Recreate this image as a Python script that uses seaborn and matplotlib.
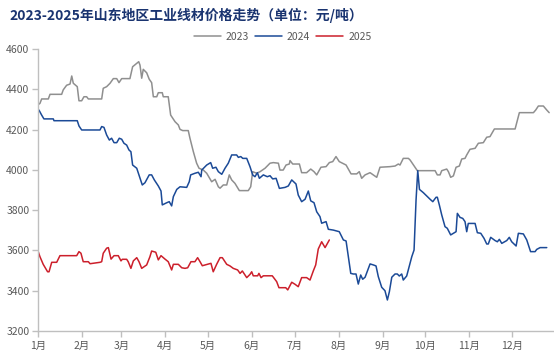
import matplotlib
matplotlib.use("Agg")
import matplotlib.pyplot as plt
import seaborn as sns
import pandas as pd

# ---------------- data (day of year, price in 元/吨) ----------------
days_2023 = [0, 1.6, 2.8, 7.5, 8.7, 16.9, 18, 20.4, 22.8, 24, 25.1, 27.9, 29.1, 31, 32.6, 34.5,
             35.7, 45.1, 46.2, 48.6, 51, 53.3, 55.7, 57.3, 59.2, 65, 66.9, 69.8, 71.2, 72.1, 73.3,
             74.4, 76.8, 78.6, 80.3, 81.5, 83.9, 85, 87.8, 88.5, 92, 93.7, 96.8, 99.1, 100.3,
             102.2, 106.1, 107.3, 109.7, 112, 113.7, 116.7, 119.1, 122.6, 125, 127.3, 128.5,
             130.8, 133.2, 135, 136.7, 139, 142.1, 148.4, 150.1, 151.5, 154.3, 156.7, 160.2,
             163.7, 166, 169.6, 170.7, 173, 175, 177.3, 177.8, 179.7, 184.4, 186, 189.5, 192.4,
             194.7, 196.6, 199.6, 203.2, 205.5, 207.9, 210.2, 212.5, 217.3, 220.8, 224.8, 226.6,
             228.3, 230.7, 234.2, 236.5, 238.9, 241.2, 248.3, 251.8, 254.1, 255.3, 257.6, 261.2,
             262.4, 267.5, 280, 281.6, 283.5, 284.7, 288.2, 289.4, 291, 292.9, 294.8, 297.1,
             298.8, 301.1, 302.3, 304.6, 308.2, 310.5, 314, 316.4, 318.7, 321.8, 336.4, 339.4,
             349.3, 350.9, 352.8, 356.3, 358.7, 360.4]
price_2023 = [4322, 4330, 4352, 4352, 4375, 4375, 4397, 4420, 4426, 4466, 4430, 4413, 4343, 4343,
              4363, 4363, 4352, 4352, 4405, 4413, 4430, 4453, 4453, 4433, 4453, 4453, 4512, 4529,
              4537, 4520, 4455, 4499, 4482, 4450, 4433, 4363, 4363, 4383, 4383, 4363, 4363, 4272,
              4239, 4223, 4201, 4195, 4195, 4157, 4090, 4033, 4008, 3999, 3983, 3941, 3953, 3916,
              3909, 3925, 3925, 3975, 3950, 3933, 3897, 3897, 3916, 3991, 3983, 3991, 4008, 4033,
              4036, 4033, 3999, 3999, 4024, 4029, 4046, 4029, 4029, 3986, 3986, 4004, 3991, 3975,
              4013, 4016, 4036, 4041, 4066, 4041, 4024, 3980, 3980, 3991, 3958, 3975, 3986, 3975,
              3963, 4013, 4016, 4019, 4029, 4024, 4057, 4057, 4049, 3996, 3996, 3975, 3975, 3996,
              4004, 3991, 3963, 3970, 4013, 4019, 4054, 4057, 4074, 4102, 4107, 4132, 4135, 4162,
              4165, 4203, 4203, 4284, 4284, 4297, 4317, 4317, 4297, 4284]

days_2024 = [0.9, 2.8, 4.4, 11, 11.5, 27.9, 29.1, 31, 43.9, 45.1, 46.7, 48.6, 50.5, 52.1, 53.8,
             55.7, 57.5, 59.2, 60.8, 62.7, 64.3, 65.7, 66.9, 69.8, 72.1, 73.7, 75.6, 78.6, 80.3,
             82.2, 85, 86.9, 87.8, 91, 92.7, 94.4, 95.6, 98, 100.3, 105, 106.8, 107.8, 110.8,
             113.2, 115.1, 115.6, 119.1, 121.9, 123.3, 125.6, 127.3, 129.7, 132, 134.3, 136.7,
             140.2, 141.4, 143.1, 144.5, 147.3, 149.6, 151.5, 153.1, 154.8, 156.2, 159, 161.8,
             163.7, 165.6, 168, 170.3, 174.3, 176.6, 179, 182, 183.6, 186, 188.4, 190.7, 192.4,
             194.7, 196.6, 198.9, 200.1, 203.2, 204.8, 208.3, 212.5, 215.4, 217.3, 218.9, 220.6,
             222.4, 224.3, 225.9, 227.6, 229, 230.7, 234.2, 236.5, 238.4, 240, 242.4, 244.7,
             246.4, 247.8, 249.5, 251.8, 253.4, 254.8, 256.5, 257.6, 260, 261.9, 263.6, 265.2,
             266.6, 267.8, 269, 271.7, 276.5, 278.4, 280.7, 281.6, 283, 284.7, 287, 288.6, 291,
             292.9, 294.8, 295.7, 297.6, 299.5, 301.1, 302.3, 303.4, 308.2, 309.8, 312.2, 314.5,
             316.4, 317.5, 319.2, 322.3, 323.9, 325.3, 327, 330.5, 332.3, 334, 337.1, 338.7,
             342.2, 344.6, 347.3, 350.5, 351.6, 354, 358.7]
price_2024 = [4297, 4272, 4253, 4253, 4244, 4244, 4218, 4198, 4198, 4215, 4211, 4173, 4148, 4157,
              4135, 4135, 4157, 4152, 4132, 4123, 4099, 4090, 4024, 4008, 3958, 3925, 3936, 3975,
              3975, 3950, 3920, 3895, 3826, 3837, 3842, 3821, 3867, 3903, 3916, 3913, 3941, 3975,
              3983, 3988, 3966, 3999, 4024, 4036, 4008, 4013, 3991, 3978, 4008, 4033, 4074, 4074,
              4062, 4066, 4057, 4057, 4016, 3975, 3966, 3986, 3958, 3975, 3966, 3971, 3955, 3958,
              3908, 3913, 3920, 3950, 3930, 3875, 3842, 3854, 3895, 3846, 3837, 3792, 3768, 3735,
              3743, 3705, 3701, 3693, 3652, 3647, 3569, 3486, 3483, 3483, 3433, 3478, 3457, 3467,
              3533, 3528, 3523, 3470, 3417, 3400, 3354, 3395, 3467, 3483, 3483, 3473, 3483, 3453,
              3473, 3523, 3569, 3602, 3850, 3996, 3903, 3887, 3854, 3842, 3864, 3864, 3826, 3776,
              3718, 3710, 3677, 3685, 3693, 3784, 3764, 3759, 3743, 3693, 3734, 3734, 3688, 3685,
              3660, 3632, 3632, 3665, 3649, 3643, 3655, 3635, 3649, 3665, 3643, 3622, 3685, 3682,
              3652, 3594, 3594, 3605, 3614, 3614]

days_2025 = [0, 1.6, 3.9, 7, 8, 9.9, 13.4, 15.7, 27.5, 29.1, 30.5, 32.1, 35.7, 36.9, 43.9, 45.1,
             46.2, 48.6, 49.8, 51.7, 53.8, 56.8, 58.7, 59.6, 62.7, 63.8, 65.7, 67.4, 69.8, 71.4,
             73.3, 76.8, 79.1, 80.3, 83.2, 85, 86.9, 89.7, 92, 94.4, 95.6, 99.1, 101.5, 103.8,
             105.7, 108, 110.8, 112.7, 114.4, 116, 122.1, 123.7, 126.1, 128.5, 130.1, 133.2,
             135.5, 137.8, 140.9, 142.6, 144.2, 147.3, 149.6, 150.8, 151.9, 155, 155.9, 157.4,
             159, 165.3, 168.4, 170, 174.8, 176.2, 179, 181.3, 183.6, 186, 189.5, 191.9, 194.2,
             195.9, 197.7, 200.1, 202.5, 205.5]
price_2025 = [3602, 3569, 3531, 3494, 3494, 3541, 3541, 3574, 3574, 3594, 3586, 3544, 3544, 3534,
              3541, 3544, 3586, 3611, 3614, 3557, 3574, 3574, 3548, 3556, 3556, 3544, 3511, 3548,
              3564, 3544, 3511, 3528, 3569, 3597, 3591, 3553, 3574, 3557, 3544, 3503, 3531, 3531,
              3514, 3511, 3514, 3544, 3544, 3564, 3544, 3524, 3536, 3494, 3531, 3564, 3564, 3531,
              3523, 3511, 3503, 3486, 3498, 3465, 3481, 3494, 3474, 3474, 3486, 3465, 3474, 3474,
              3445, 3415, 3415, 3404, 3442, 3432, 3420, 3465, 3465, 3453, 3498, 3528, 3607, 3643,
              3614, 3652]

years = ["2023", "2024", "2025"]
month_labels = ["1月", "2月", "3月", "4月", "5月", "6月", "7月", "8月", "9月", "10月", "11月", "12月"]
month_starts = [0, 31, 59, 90, 120, 151, 181, 212, 243, 273, 304, 334]
y_ticks = [3200, 3400, 3600, 3800, 4000, 4200, 4400, 4600]
title = "2023-2025年山东地区工业线材价格走势（单位：元/吨）"

df = pd.concat([
    pd.DataFrame({"day": days_2023, "price": price_2023, "year": "2023"}),
    pd.DataFrame({"day": days_2024, "price": price_2024, "year": "2024"}),
    pd.DataFrame({"day": days_2025, "price": price_2025, "year": "2025"}),
], ignore_index=True)

# ---------------- style ----------------
sns.set_theme(style="white")
plt.rcParams["font.family"] = ["Noto Sans CJK SC", "DejaVu Sans"]

palette = {"2023": "#8f8f8f", "2024": "#1b4a97", "2025": "#cc1f2b"}

fig = plt.figure(figsize=(5.54, 3.59), dpi=100)
ax = fig.add_axes([0.068, 0.078, 0.932, 0.7855])

sns.lineplot(data=df, x="day", y="price", hue="year", hue_order=years, palette=palette,
             estimator=None, linewidth=1.1, ax=ax, legend=True)

ax.set_xlim(0, 363.8)
ax.set_ylim(3200, 4600)
ax.set_xticks(month_starts)
ax.set_xticklabels(month_labels)
ax.set_yticks(y_ticks)
ax.set_xlabel("")
ax.set_ylabel("")

for s in ["top", "right"]:
    ax.spines[s].set_visible(False)
for s in ["left", "bottom"]:
    ax.spines[s].set_color("#bfbfbf")
    ax.spines[s].set_linewidth(1.0)

ax.tick_params(axis="both", which="major", length=4, width=1.0, color="#bfbfbf",
               labelsize=7.5, labelcolor="#595959", pad=2)
ax.tick_params(axis="x", bottom=True, pad=3)
ax.tick_params(axis="y", left=True)

handles, labels = ax.get_legend_handles_labels()
ax.get_legend().remove()
fig.legend(handles, labels, loc="center", bbox_to_anchor=(0.51, 0.897), ncol=3,
           frameon=False, fontsize=7.5, handlelength=2.6, handletextpad=0.45,
           columnspacing=0.6, labelcolor="#595959")

fig.text(0.018, 0.958, title, ha="left", va="center", fontsize=10, fontweight="heavy",
         color="#1a3470")

fig.savefig("out.png", dpi=100)
